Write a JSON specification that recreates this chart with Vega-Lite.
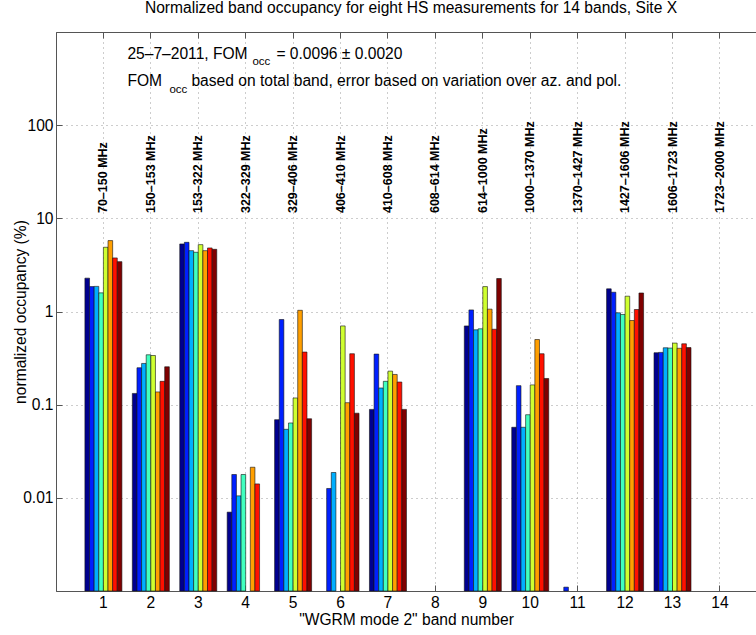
{
  "$schema": "https://vega.github.io/schema/vega-lite/v6.json",
  "width": 700,
  "height": 559,
  "autosize": {"type": "none"},
  "padding": {"left": 56, "top": 32, "right": 0, "bottom": 44},
  "background": "white",
  "title": {
    "text": "Normalized band occupancy for eight HS measurements for 14 bands, Site X",
    "fontSize": 15.6,
    "fontWeight": "normal",
    "font": "Liberation Sans",
    "color": "black",
    "baseline": "alphabetic",
    "offset": 3,
    "dx": 5
  },
  "datasets": {
    "bars": [
      {"band": 1, "m": 1, "v": 2.28}, {"band": 1, "m": 2, "v": 1.85}, {"band": 1, "m": 3, "v": 1.86}, {"band": 1, "m": 4, "v": 1.585},
      {"band": 1, "m": 5, "v": 4.89}, {"band": 1, "m": 6, "v": 5.77}, {"band": 1, "m": 7, "v": 3.76}, {"band": 1, "m": 8, "v": 3.43},
      {"band": 2, "m": 1, "v": 0.132}, {"band": 2, "m": 2, "v": 0.249}, {"band": 2, "m": 3, "v": 0.277}, {"band": 2, "m": 4, "v": 0.343},
      {"band": 2, "m": 5, "v": 0.337}, {"band": 2, "m": 6, "v": 0.137}, {"band": 2, "m": 7, "v": 0.178}, {"band": 2, "m": 8, "v": 0.255},
      {"band": 3, "m": 1, "v": 5.31}, {"band": 3, "m": 2, "v": 5.53}, {"band": 3, "m": 3, "v": 4.5}, {"band": 3, "m": 4, "v": 4.32},
      {"band": 3, "m": 5, "v": 5.22}, {"band": 3, "m": 6, "v": 4.5}, {"band": 3, "m": 7, "v": 4.81}, {"band": 3, "m": 8, "v": 4.65},
      {"band": 4, "m": 1, "v": 0.00702}, {"band": 4, "m": 2, "v": 0.0178}, {"band": 4, "m": 3, "v": 0.0105}, {"band": 4, "m": 4, "v": 0.0178},
      {"band": 4, "m": 6, "v": 0.0213}, {"band": 4, "m": 7, "v": 0.0141},
      {"band": 5, "m": 1, "v": 0.069}, {"band": 5, "m": 2, "v": 0.82}, {"band": 5, "m": 3, "v": 0.0544}, {"band": 5, "m": 4, "v": 0.0636},
      {"band": 5, "m": 5, "v": 0.118}, {"band": 5, "m": 6, "v": 1.03}, {"band": 5, "m": 7, "v": 0.367}, {"band": 5, "m": 8, "v": 0.0706},
      {"band": 6, "m": 2, "v": 0.0126}, {"band": 6, "m": 3, "v": 0.0187},
      {"band": 6, "m": 5, "v": 0.70}, {"band": 6, "m": 6, "v": 0.105}, {"band": 6, "m": 7, "v": 0.352}, {"band": 6, "m": 8, "v": 0.081},
      {"band": 7, "m": 1, "v": 0.089}, {"band": 7, "m": 2, "v": 0.349}, {"band": 7, "m": 3, "v": 0.151}, {"band": 7, "m": 4, "v": 0.178},
      {"band": 7, "m": 5, "v": 0.229}, {"band": 7, "m": 6, "v": 0.211}, {"band": 7, "m": 7, "v": 0.175}, {"band": 7, "m": 8, "v": 0.089},
      {"band": 9, "m": 1, "v": 0.70}, {"band": 9, "m": 2, "v": 1.04}, {"band": 9, "m": 3, "v": 0.636}, {"band": 9, "m": 4, "v": 0.652},
      {"band": 9, "m": 5, "v": 1.85}, {"band": 9, "m": 6, "v": 1.06}, {"band": 9, "m": 7, "v": 0.645}, {"band": 9, "m": 8, "v": 2.26},
      {"band": 10, "m": 1, "v": 0.0572}, {"band": 10, "m": 2, "v": 0.160}, {"band": 10, "m": 3, "v": 0.0572}, {"band": 10, "m": 4, "v": 0.078},
      {"band": 10, "m": 5, "v": 0.163}, {"band": 10, "m": 6, "v": 0.50}, {"band": 10, "m": 7, "v": 0.352}, {"band": 10, "m": 8, "v": 0.191},
      {"band": 11, "m": 2, "v": 0.0011},
      {"band": 12, "m": 1, "v": 1.75}, {"band": 12, "m": 2, "v": 1.61}, {"band": 12, "m": 3, "v": 0.968}, {"band": 12, "m": 4, "v": 0.929},
      {"band": 12, "m": 5, "v": 1.46}, {"band": 12, "m": 6, "v": 0.80}, {"band": 12, "m": 7, "v": 1.05}, {"band": 12, "m": 8, "v": 1.58},
      {"band": 13, "m": 1, "v": 0.361}, {"band": 13, "m": 2, "v": 0.364}, {"band": 13, "m": 3, "v": 0.408}, {"band": 13, "m": 4, "v": 0.405},
      {"band": 13, "m": 5, "v": 0.458}, {"band": 13, "m": 6, "v": 0.403}, {"band": 13, "m": 7, "v": 0.450}, {"band": 13, "m": 8, "v": 0.41}
    ],
    "bands": [
      {"band": 1, "label": "70–150 MHz"},
      {"band": 2, "label": "150–153 MHz"},
      {"band": 3, "label": "153–322 MHz"},
      {"band": 4, "label": "322–329 MHz"},
      {"band": 5, "label": "329–406 MHz"},
      {"band": 6, "label": "406–410 MHz"},
      {"band": 7, "label": "410–608 MHz"},
      {"band": 8, "label": "608–614 MHz"},
      {"band": 9, "label": "614–1000 MHz"},
      {"band": 10, "label": "1000–1370 MHz"},
      {"band": 11, "label": "1370–1427 MHz"},
      {"band": 12, "label": "1427–1606 MHz"},
      {"band": 13, "label": "1606–1723 MHz"},
      {"band": 14, "label": "1723–2000 MHz"}
    ]
  },
  "layer": [
    {
      "data": {"name": "bars"},
      "mark": {"type": "bar", "stroke": "#111111", "strokeWidth": 0.6},
      "encoding": {
        "x": {
          "field": "band",
          "type": "ordinal",
          "scale": {"domain": [1,2,3,4,5,6,7,8,9,10,11,12,13,14], "paddingInner": 0.22, "paddingOuter": 0.49, "align": 0.622},
          "axis": {
            "orient": "bottom",
            "title": "\"WGRM mode 2\" band number",
            "labelAngle": 0,
            "grid": true,
            "bandPosition": 0.5,
            "tickSize": -6,
            "labelPadding": 10,
            "titlePadding": 2
          }
        },
        "xOffset": {"field": "m", "type": "ordinal", "scale": {"domain": [1,2,3,4,5,6,7,8], "paddingInner": 0, "paddingOuter": 0}},
        "y": {
          "field": "v",
          "type": "quantitative",
          "scale": {"type": "log", "domain": [0.001, 1000], "nice": false},
          "axis": {
            "orient": "left",
            "title": "normalized occupancy (%)",
            "values": [0.001, 0.01, 0.1, 1, 10, 100, 1000],
            "labelExpr": "datum.value < 0.005 || datum.value > 500 ? '' : format(datum.value, '~g')",
            "grid": true,
            "tickSize": -6,
            "labelPadding": 9,
            "titlePadding": -6
          }
        },
        "y2": {"datum": 0.001},
        "color": {
          "field": "m",
          "type": "ordinal",
          "scale": {"domain": [1,2,3,4,5,6,7,8], "range": ["#00008f", "#0020ff", "#00afff", "#40ffbf", "#cfff30", "#ff9f00", "#ff1000", "#800000"]},
          "legend": null
        }
      }
    },
    {
      "data": {"name": "bands"},
      "mark": {"type": "text", "angle": 270, "align": "left", "baseline": "middle", "fontSize": 12.5, "fontWeight": "bold", "font": "Liberation Sans", "color": "black"},
      "encoding": {
        "x": {
          "field": "band",
          "type": "ordinal",
          "axis": {"orient": "top", "labels": false, "title": null, "grid": false, "tickSize": -6, "bandPosition": 0.5}
        },
        "y": {"datum": 11.4, "type": "quantitative"},
        "text": {"field": "label"}
      }
    },
    {
      "data": {"values": [{}]},
      "mark": {"type": "text", "text": "25–7–2011, FOM", "align": "left", "baseline": "alphabetic", "fontSize": 15.6, "dx": 24, "color": "black"},
      "encoding": {"x": {"datum": 1, "type": "ordinal", "axis": null}, "y": {"datum": 511, "type": "quantitative"}}
    },
    {
      "data": {"values": [{}]},
      "mark": {"type": "text", "text": "occ", "align": "left", "baseline": "alphabetic", "fontSize": 11.5, "dx": 149, "dy": 6, "color": "black"},
      "encoding": {"x": {"datum": 1, "type": "ordinal", "axis": null}, "y": {"datum": 511, "type": "quantitative"}}
    },
    {
      "data": {"values": [{}]},
      "mark": {"type": "text", "text": "= 0.0096 ± 0.0020", "align": "left", "baseline": "alphabetic", "fontSize": 15.6, "dx": 173, "color": "black"},
      "encoding": {"x": {"datum": 1, "type": "ordinal", "axis": null}, "y": {"datum": 511, "type": "quantitative"}}
    },
    {
      "data": {"values": [{}]},
      "mark": {"type": "text", "text": "FOM", "align": "left", "baseline": "alphabetic", "fontSize": 15.6, "dx": 24, "color": "black"},
      "encoding": {"x": {"datum": 1, "type": "ordinal", "axis": null}, "y": {"datum": 264, "type": "quantitative"}}
    },
    {
      "data": {"values": [{}]},
      "mark": {"type": "text", "text": "occ", "align": "left", "baseline": "alphabetic", "fontSize": 11.5, "dx": 66, "dy": 7, "color": "black"},
      "encoding": {"x": {"datum": 1, "type": "ordinal", "axis": null}, "y": {"datum": 264, "type": "quantitative"}}
    },
    {
      "data": {"values": [{}]},
      "mark": {"type": "text", "text": "based on total band, error based on variation over az. and pol.", "align": "left", "baseline": "alphabetic", "fontSize": 15.6, "dx": 88, "color": "black"},
      "encoding": {"x": {"datum": 1, "type": "ordinal", "axis": null}, "y": {"datum": 264, "type": "quantitative"}}
    }
  ],
  "resolve": {"axis": {"x": "independent", "y": "shared"}},
  "config": {
    "view": {"stroke": null},
    "font": "Liberation Sans",
    "text": {"font": "Liberation Sans"},
    "axis": {
      "domainColor": "#555555",
      "domainWidth": 1,
      "tickColor": "#555555",
      "tickWidth": 1,
      "gridColor": "#9a9a9a",
      "gridDash": [1, 4],
      "gridWidth": 1,
      "gridOpacity": 1,
      "labelFont": "Liberation Sans",
      "labelFontSize": 15.6,
      "labelColor": "black",
      "titleFont": "Liberation Sans",
      "titleFontSize": 15.6,
      "titleFontWeight": "normal",
      "titleColor": "black"
    }
  }
}
